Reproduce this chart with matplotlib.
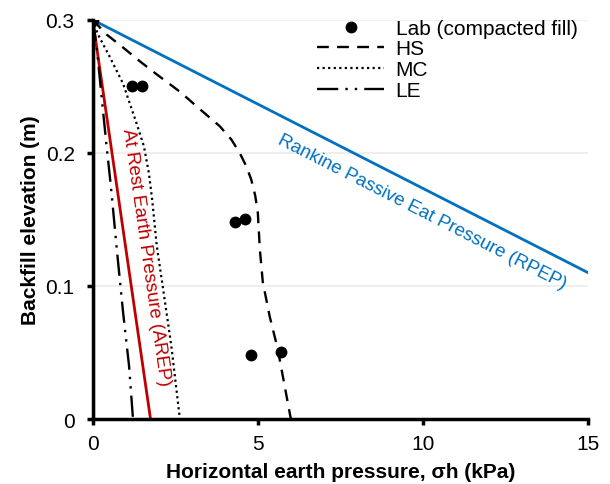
import matplotlib.pyplot as plt
import numpy as np

plt.rcParams['font.family'] = ['Liberation Sans', 'DejaVu Sans']

# Ensaios de laboratório (aterro compactado)
lab_x = [0.0, 1.2, 1.5, 4.3, 4.6, 4.8, 5.7]
lab_y = [0.3, 0.25, 0.25, 0.148, 0.15, 0.048, 0.05]

# Curvas numéricas
hs_x = [0, 0.42, 0.88, 1.42, 1.94, 2.64, 3.24, 3.85, 4.2, 4.45, 4.65, 4.8, 4.92, 5.0, 5.06, 5.15, 5.36, 5.6, 6.0]
hs_y = [0.3, 0.289, 0.28, 0.269, 0.259, 0.246, 0.233, 0.22, 0.21, 0.2, 0.19, 0.18, 0.168, 0.155, 0.128, 0.103, 0.077, 0.053, 0.0]

mc_x = [0, 0.16, 0.52, 0.92, 1.33, 1.55, 1.7, 1.8, 1.94, 2.13, 2.38, 2.64]
mc_y = [0.3, 0.289, 0.272, 0.252, 0.222, 0.205, 0.185, 0.165, 0.13, 0.098, 0.055, 0.0]

le_x = [0, 0.12, 0.27, 0.42, 0.55, 0.72, 0.92, 1.1, 1.22]
le_y = [0.3, 0.28, 0.242, 0.205, 0.175, 0.13, 0.08, 0.04, 0.0]

# Linhas teóricas
arep_x = [0, 1.75]
arep_y = [0.3, 0.0]
rpep_x = [0, 15]
rpep_y = [0.3, 0.11]

fig = plt.figure(figsize=(6.1, 4.85), dpi=100)
ax = fig.add_axes([0.152, 0.134, 0.812, 0.823])

ax.grid(axis='y', color='#ebebeb', linewidth=1.2, zorder=0)

ax.plot(rpep_x, rpep_y, color='#0070c0', linewidth=2, zorder=2)
ax.plot(arep_x, arep_y, color='#c00000', linewidth=2, zorder=2)
ax.plot(hs_x, hs_y, color='black', linestyle=(0, (5, 3.5)), linewidth=1.7, label='HS', zorder=3)
ax.plot(mc_x, mc_y, color='black', linestyle=(0, (1, 1.5)), linewidth=1.6, label='MC', zorder=3)
ax.plot(le_x, le_y, color='black', linestyle=(0, (9, 3, 1, 3, 1, 3)), linewidth=1.7, label='LE', zorder=3)
ax.plot(lab_x, lab_y, 'o', color='black', markersize=7.5, label='Lab (compacted fill)', zorder=4)
ax.plot([0, 0], [0, 0.3], color='black', linewidth=3, zorder=3)

ax.text(9.97, 0.156, 'Rankine Passive Eat Pressure (RPEP)', color='#0070c0', fontsize=13.5,
        rotation=-27, ha='center', va='center')
ax.text(1.6, 0.122, 'At Rest Earth Pressure (AREP)', color='#c00000', fontsize=13.5,
        rotation=-81.8, ha='center', va='center')

ax.set_xlim(0, 15)
ax.set_ylim(0, 0.3)
ax.set_xticks([0, 5, 10, 15])
ax.set_yticks([0, 0.1, 0.2, 0.3])
ax.set_yticklabels(['0', '0.1', '0.2', '0.3'])
ax.tick_params(labelsize=15, width=2.5, length=4, direction='out')
ax.tick_params(axis='y', pad=9)
ax.tick_params(axis='x', pad=7)

for s in ['top', 'right']:
    ax.spines[s].set_visible(False)
for s in ['left', 'bottom']:
    ax.spines[s].set_linewidth(2.5)

ax.set_xlabel('Horizontal earth pressure, σh (kPa)', fontsize=15, fontweight='bold', labelpad=6)
ax.set_ylabel('Backfill elevation (m)', fontsize=15, fontweight='bold', labelpad=4)

handles, labels = ax.get_legend_handles_labels()
order = [3, 0, 1, 2]
ax.legend([handles[i] for i in order], [labels[i] for i in order], loc='upper right',
          frameon=False, fontsize=15, handlelength=3.2, handletextpad=0.55, borderaxespad=0.0,
          borderpad=0.2, bbox_to_anchor=(0.987, 1.013), labelspacing=0.08)

fig.savefig('out.png', dpi=100)
